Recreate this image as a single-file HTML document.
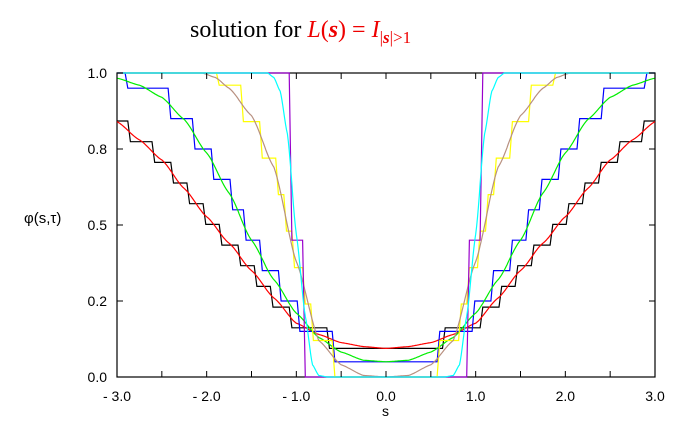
<!DOCTYPE html>
<html><head><meta charset="utf-8"><style>
body{margin:0;background:#fff;width:678px;height:432px;overflow:hidden}
svg text{font-family:"Liberation Sans",sans-serif}
</style></head><body>
<svg id="chart" width="678" height="432" xmlns="http://www.w3.org/2000/svg">
<text x="190" y="37" font-size="24" style="font-family:'Liberation Serif',serif">solution for <tspan fill="#e00" font-style="italic">L</tspan><tspan fill="#e00">(</tspan><tspan fill="#e00" font-style="italic" font-weight="bold">s</tspan><tspan fill="#e00">) = </tspan><tspan fill="#e00" font-style="italic">I</tspan><tspan fill="#e00" font-size="17" dy="6">|<tspan font-style="italic" font-weight="bold">s</tspan>|&gt;1</tspan></text>
<g id="plot"></g>
<text x="24" y="223" font-size="15">φ(s,τ)</text>
<text x="382" y="416" font-size="14">s</text>
</svg>
<script>
const xTicks=[-3,-2,-1,0,1,2,3];
const xTickLabels=["- 3.0","- 2.0","- 1.0","0.0","1.0","2.0","3.0"];
const yTicks=[0,0.25,0.5,0.75,1];
const yTickLabels=["0.0","0.2","0.5","0.8","1.0"];
const sGrid=[0,0.25,0.5,0.75,1,1.25,1.5,1.75,2,2.25,2.5,2.75,3];
const redVals=[0.094,0.1,0.113,0.14,0.177,0.26,0.35,0.44,0.527,0.62,0.714,0.78,0.84];
const greenVals=[0.05,0.055,0.082,0.13,0.21,0.32,0.45,0.605,0.737,0.847,0.92,0.96,0.983];
const brownS=[0,0.25,0.5,0.75,1,1.25,1.5,1.75,1.9,2.05,3];
const brownVals=[0,0.005,0.04,0.12,0.38,0.69,0.86,0.95,0.985,1,1];
const cyanS=[0,0.65,0.75,0.82,0.9,1.0,1.1,1.18,1.25,1.32,3];
const cyanVals=[0,0,0.005,0.04,0.2,0.47,0.8,0.94,0.985,1,1];
const purpleLevels=[0,0.45,1];
const X0=117,X1=655,Y0=377,Y1=73;
const sx=s=>X0+(s+3)/6*(X1-X0);
const sy=v=>Y0-v*(Y0-Y1);
const NS="http://www.w3.org/2000/svg";
const g=document.getElementById('plot');
function interp(xs,vs,s){s=Math.abs(s);
 for(let i=1;i<xs.length;i++){if(s<=xs[i]){const t=(s-xs[i-1])/(xs[i]-xs[i-1]);
  const u=t*t*(3-2*t)*0.35+t*0.65;
  return vs[i-1]+u*(vs[i]-vs[i-1]);}}
 return vs[vs.length-1];}
function path(d,color,name){const p=document.createElementNS(NS,'path');p.setAttribute('d',d);p.setAttribute('fill','none');p.setAttribute('stroke',color);p.setAttribute('stroke-width','1.2');


g.appendChild(p);}
function smooth(xs,vs,color,name){let d='';for(let i=0;i<=600;i++){const s=-3+i*0.01;const v=interp(xs,vs,s);d+=(i?'L':'M')+sx(s).toFixed(1)+' '+sy(v).toFixed(1);}path(d,color,name);}
function snap(v,levels){let b=levels[0];for(const l of levels)if(Math.abs(l-v)<Math.abs(b-v))b=l;return b;}
function stairs(xs,vs,levels,color,name){let d='';const h=0.03;const n=Math.round(6/h);
 for(let i=0;i<=n;i++){const s=-3+i*h;const v=snap(interp(xs,vs,s),levels);d+=(i?'L':'M')+sx(s).toFixed(1)+' '+sy(v).toFixed(1);}path(d,color,name);}
function lev(base,dv){const a=[];for(let v=base;v<=1.0001;v+=dv)a.push(v);a.push(1);return a;}
stairs(sGrid,redVals,lev(Math.min(...redVals),0.068),'#000','series-black-stairs');
smooth(sGrid,redVals,'#f00','series-red');
stairs(sGrid,greenVals,lev(Math.min(...greenVals),0.1),'#00f','series-blue-stairs');
smooth(sGrid,greenVals,'#0e0','series-green');
stairs(brownS,brownVals,lev(0,0.12),'#ff0','series-yellow-stairs');
smooth(brownS,brownVals,'#b89080','series-brown');
stairs(cyanS,cyanVals,purpleLevels,'#90c','series-purple-stairs');
smooth(cyanS,cyanVals,'#0ff','series-cyan');
const fr=document.createElementNS(NS,'rect');fr.setAttribute('x',X0);fr.setAttribute('y',Y1);fr.setAttribute('width',X1-X0);fr.setAttribute('height',Y0-Y1);fr.setAttribute('fill','none');fr.setAttribute('stroke','#000');fr.setAttribute('stroke-width','1.2');


g.insertBefore(fr,g.firstChild);
for(let t=-3;t<=3.001;t+=0.5){const l=document.createElementNS(NS,'path');const x=sx(t);l.setAttribute('d',`M${x} ${Y0}v-6M${x} ${Y1}v6`);l.setAttribute('stroke','#000');


g.appendChild(l);}
xTicks.forEach((t,i)=>{const e=document.createElementNS(NS,'text');e.setAttribute('x',sx(t));e.setAttribute('y',Y0+24);e.setAttribute('text-anchor','middle');e.setAttribute('font-size','14');e.textContent=xTickLabels[i];


g.appendChild(e);});
yTicks.forEach((t,i)=>{const y=sy(t);const l=document.createElementNS(NS,'path');l.setAttribute('d',`M${X0} ${y}h6M${X1} ${y}h-6`);l.setAttribute('stroke','#000');


g.appendChild(l);
const e=document.createElementNS(NS,'text');e.setAttribute('x',X0-10);e.setAttribute('y',y+5);e.setAttribute('text-anchor','end');e.setAttribute('font-size','14');e.textContent=yTickLabels[i];


g.appendChild(e);});
</script>
</body></html>
